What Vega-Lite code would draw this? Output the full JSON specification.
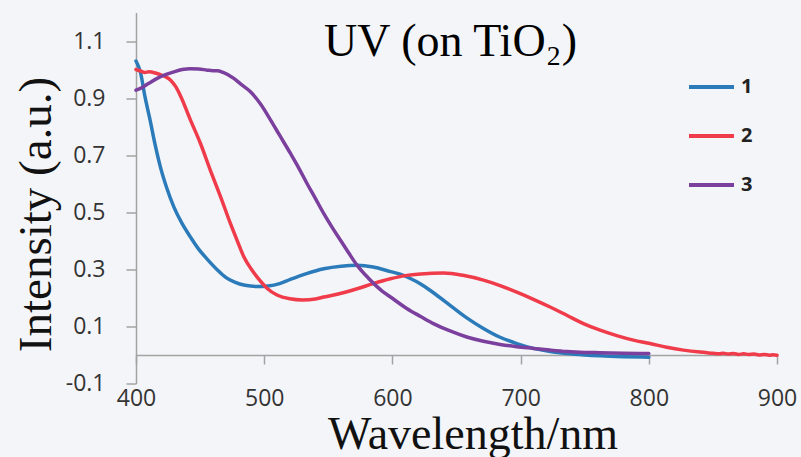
{
 "$schema": "https://vega.github.io/schema/vega-lite/v6.json",
 "width": 641, "height": 371,
 "autosize": {"type": "none"},
 "padding": {"left": 136, "top": 12.5, "right": 24, "bottom": 73.5},
 "background": "#f4f5f8",
 "title": {"text": "UV (on TiO₂)", "font": "Liberation Serif", "fontSize": 46, "fontWeight": "normal", "color": "#000000", "anchor": "middle", "frame": "group", "baseline": "alphabetic", "offset": -89.5, "dx": -6},
 "datasets": {
  "d1": [
   {"s":"1","w":400,"v":1.03},{"s":"1","w":403.5,"v":0.99},{"s":"1","w":407,"v":0.905},{"s":"1","w":411,"v":0.823},{"s":"1","w":415,"v":0.735},{"s":"1","w":419,"v":0.659},{"s":"1","w":424,"v":0.585},{"s":"1","w":429.5,"v":0.519},{"s":"1","w":436,"v":0.46},{"s":"1","w":442.5,"v":0.413},{"s":"1","w":449,"v":0.37},{"s":"1","w":455.5,"v":0.336},{"s":"1","w":463.5,"v":0.298},{"s":"1","w":470,"v":0.272},{"s":"1","w":477,"v":0.255},{"s":"1","w":485,"v":0.244},{"s":"1","w":494,"v":0.24},{"s":"1","w":503,"v":0.242},{"s":"1","w":512,"v":0.25},{"s":"1","w":520,"v":0.264},{"s":"1","w":533,"v":0.285},{"s":"1","w":546.5,"v":0.302},{"s":"1","w":560,"v":0.311},{"s":"1","w":572.5,"v":0.314},{"s":"1","w":585,"v":0.308},{"s":"1","w":598.5,"v":0.292},{"s":"1","w":606,"v":0.283},{"s":"1","w":614,"v":0.268},{"s":"1","w":622,"v":0.249},{"s":"1","w":632,"v":0.218},{"s":"1","w":645,"v":0.174},{"s":"1","w":658,"v":0.13},{"s":"1","w":671,"v":0.093},{"s":"1","w":684,"v":0.062},{"s":"1","w":697,"v":0.04},{"s":"1","w":710,"v":0.023},{"s":"1","w":723,"v":0.012},{"s":"1","w":736,"v":0.005},{"s":"1","w":750,"v":0.0},{"s":"1","w":762,"v":-0.003},{"s":"1","w":780,"v":-0.006},{"s":"1","w":800,"v":-0.008},
   {"s":"2","w":400,"v":1.0},{"s":"2","w":403.5,"v":0.995},{"s":"2","w":407,"v":0.99},{"s":"2","w":410,"v":0.992},{"s":"2","w":415,"v":0.988},{"s":"2","w":419,"v":0.982},{"s":"2","w":423,"v":0.975},{"s":"2","w":427,"v":0.963},{"s":"2","w":431,"v":0.94},{"s":"2","w":435,"v":0.905},{"s":"2","w":442.5,"v":0.823},{"s":"2","w":450.3,"v":0.741},{"s":"2","w":458,"v":0.647},{"s":"2","w":466,"v":0.554},{"s":"2","w":473.7,"v":0.46},{"s":"2","w":479,"v":0.4},{"s":"2","w":484,"v":0.345},{"s":"2","w":490,"v":0.3},{"s":"2","w":495,"v":0.27},{"s":"2","w":502.6,"v":0.232},{"s":"2","w":510,"v":0.21},{"s":"2","w":520,"v":0.197},{"s":"2","w":530,"v":0.193},{"s":"2","w":540,"v":0.196},{"s":"2","w":546.5,"v":0.203},{"s":"2","w":560,"v":0.216},{"s":"2","w":572.5,"v":0.232},{"s":"2","w":585,"v":0.25},{"s":"2","w":598.5,"v":0.267},{"s":"2","w":610,"v":0.278},{"s":"2","w":622,"v":0.284},{"s":"2","w":640,"v":0.287},{"s":"2","w":655,"v":0.279},{"s":"2","w":671,"v":0.262},{"s":"2","w":684,"v":0.243},{"s":"2","w":697,"v":0.22},{"s":"2","w":710,"v":0.195},{"s":"2","w":723,"v":0.168},{"s":"2","w":736,"v":0.139},{"s":"2","w":749,"v":0.11},{"s":"2","w":762,"v":0.087},{"s":"2","w":775,"v":0.068},{"s":"2","w":788,"v":0.052},{"s":"2","w":801,"v":0.04},{"s":"2","w":814,"v":0.027},{"s":"2","w":827,"v":0.017},{"s":"2","w":840,"v":0.01},{"s":"2","w":850,"v":0.006},{"s":"2","w":855,"v":0.004},{"s":"2","w":858,"v":0.006},{"s":"2","w":862,"v":0.003},{"s":"2","w":866,"v":0.005},{"s":"2","w":870,"v":0.002},{"s":"2","w":874,"v":0.004},{"s":"2","w":878,"v":0.002},{"s":"2","w":882,"v":0.003},{"s":"2","w":886,"v":0.0},{"s":"2","w":890,"v":0.002},{"s":"2","w":894,"v":-0.001},{"s":"2","w":897,"v":0.001},{"s":"2","w":900,"v":-0.001},
   {"s":"3","w":400,"v":0.928},{"s":"3","w":403.5,"v":0.934},{"s":"3","w":410,"v":0.952},{"s":"3","w":416.5,"v":0.969},{"s":"3","w":423,"v":0.982},{"s":"3","w":429.5,"v":0.992},{"s":"3","w":436,"v":1.0},{"s":"3","w":442.5,"v":1.003},{"s":"3","w":449,"v":1.002},{"s":"3","w":455.5,"v":0.998},{"s":"3","w":460,"v":0.996},{"s":"3","w":463.3,"v":0.996},{"s":"3","w":468,"v":0.99},{"s":"3","w":476.3,"v":0.969},{"s":"3","w":482,"v":0.948},{"s":"3","w":489.3,"v":0.922},{"s":"3","w":497,"v":0.88},{"s":"3","w":505,"v":0.823},{"s":"3","w":512,"v":0.77},{"s":"3","w":520.5,"v":0.706},{"s":"3","w":527,"v":0.655},{"s":"3","w":533.5,"v":0.6},{"s":"3","w":540,"v":0.548},{"s":"3","w":546.5,"v":0.495},{"s":"3","w":553,"v":0.447},{"s":"3","w":559.5,"v":0.402},{"s":"3","w":566,"v":0.357},{"s":"3","w":572.5,"v":0.314},{"s":"3","w":579,"v":0.28},{"s":"3","w":585.5,"v":0.25},{"s":"3","w":592,"v":0.224},{"s":"3","w":598.5,"v":0.203},{"s":"3","w":611.5,"v":0.162},{"s":"3","w":622,"v":0.135},{"s":"3","w":632,"v":0.11},{"s":"3","w":645,"v":0.084},{"s":"3","w":658,"v":0.063},{"s":"3","w":671,"v":0.048},{"s":"3","w":684,"v":0.037},{"s":"3","w":697,"v":0.029},{"s":"3","w":710,"v":0.023},{"s":"3","w":723,"v":0.017},{"s":"3","w":736,"v":0.012},{"s":"3","w":750,"v":0.009},{"s":"3","w":762,"v":0.008},{"s":"3","w":780,"v":0.006},{"s":"3","w":800,"v":0.005}
  ]
 },
 "data": {"name": "d1"},
 "mark": {"type": "line", "interpolate": "monotone", "strokeWidth": 3.5, "strokeCap": "round"},
 "encoding": {
  "x": {"field": "w", "type": "quantitative",
   "scale": {"domain": [400, 900], "nice": false, "zero": false},
   "axis": {"values": [400, 500, 600, 700, 800, 900], "offset": -28.5, "grid": false,
    "domainColor": "#a3a3a3", "domainWidth": 1.5, "tickColor": "#a3a3a3", "tickWidth": 1.5, "tickSize": 9,
    "labelFont": "Open Sans", "labelFontSize": 23, "labelColor": "#333333", "labelPadding": 23, "labelFlush": false,
    "title": "Wavelength/nm", "titleFont": "Liberation Serif", "titleFontSize": 46, "titleFontWeight": "normal", "titleColor": "#111111",
    "titleX": 336.5, "titleY": 93, "titleBaseline": "alphabetic", "titleAlign": "center"}},
  "y": {"field": "v", "type": "quantitative",
   "scale": {"domain": [-0.1, 1.2], "nice": false, "zero": false},
   "axis": {"values": [-0.1, 0.1, 0.3, 0.5, 0.7, 0.9, 1.1], "grid": false,
    "labelExpr": "replace(format(datum.value, '.1f'), '−', '-')",
    "domainColor": "#a3a3a3", "domainWidth": 1.5, "tickColor": "#a3a3a3", "tickWidth": 1.5, "tickSize": 10,
    "labelFont": "Open Sans", "labelFontSize": 23, "labelColor": "#333333", "labelPadding": 21,
    "title": "Intensity (a.u.)", "titleFont": "Liberation Serif", "titleFontSize": 47, "titleFontWeight": "normal", "titleColor": "#111111",
    "titleX": -86, "titleY": 201.5, "titleBaseline": "alphabetic", "titleAlign": "center", "titleAngle": -90}},
  "color": {"field": "s", "type": "nominal",
   "scale": {"domain": ["1", "2", "3"], "range": ["#2b7bba", "#ef3b4a", "#7b3f9e"]},
   "legend": {"orient": "none", "legendX": 551, "legendY": 50, "title": null, "symbolType": "stroke", "symbolSize": 2025, "symbolStrokeWidth": 4,
    "labelFont": "Open Sans", "labelFontWeight": "bold", "labelFontSize": 20, "labelColor": "#222222", "labelOffset": 5, "rowPadding": 14, "padding": 0}}
 },
 "config": {"view": {"stroke": null}}
}
